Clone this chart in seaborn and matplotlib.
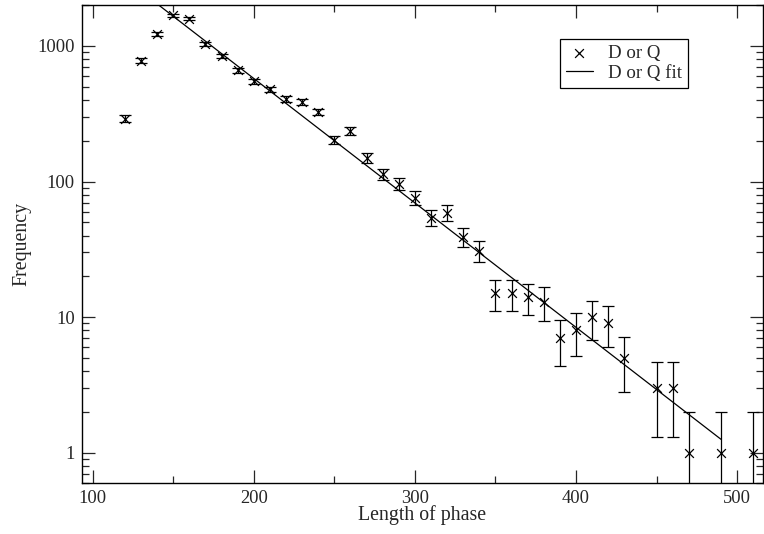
import numpy as np
import pandas as pd
import seaborn as sns
import matplotlib.pyplot as plt
from matplotlib.ticker import MultipleLocator, LogLocator, FixedLocator, NullFormatter

# phase lengths and counts
length = [120, 130, 140, 150, 160, 170, 180, 190, 200, 210, 220, 230, 240, 250,
          260, 270, 280, 290, 300, 310, 320, 330, 340, 350, 360, 370, 380, 390,
          400, 410, 420, 430, 450, 460, 470, 490, 510]
freq = [290, 780, 1220, 1680, 1580, 1030, 840, 660, 550, 478, 405, 385, 325, 202,
        235, 150, 113, 96, 76, 54, 59, 39, 31, 15, 15, 14, 13, 7,
        8, 10, 9, 5, 3, 3, 1, 1, 1]
err = [17, 28, 35, 41, 40, 32, 29, 26, 23.5, 22, 20, 19.6, 18, 14.2,
       15.3, 12.2, 10.6, 9.8, 8.7, 7.3, 7.7, 6.2, 5.6, 3.9, 3.9, 3.7, 3.6, 2.6,
       2.8, 3.2, 3.0, 2.2, 1.7, 1.7, 1, 1, 1]

# fitted exponential, end points
fit_x = [140, 490]
fit_y = [2040, 1.26]

df = pd.DataFrame({"length": length, "freq": freq, "err": err})
fit = pd.DataFrame({"length": fit_x, "freq": fit_y})

sns.set_style("ticks")
plt.rcParams["font.family"] = ["Liberation Serif", "DejaVu Serif"]
plt.rcParams["font.size"] = 13.5

fig = plt.figure(figsize=(7.64, 5.34), dpi=100)
ax = fig.add_axes([0.107, 0.0955, 0.8915, 0.8951])

ax.errorbar(df["length"], df["freq"], yerr=df["err"], fmt="none",
            ecolor="black", elinewidth=0.9, capsize=4.3, capthick=0.9, zorder=2)
sns.scatterplot(data=df, x="length", y="freq", marker="x", s=40, color="black",
                linewidth=0.9, ax=ax, label="D or Q", zorder=3)
sns.lineplot(data=fit, x="length", y="freq", color="black", linewidth=0.9,
             ax=ax, label="D or Q fit", zorder=2)

ax.set_yscale("log")
ax.set_xlim(93.2, 516)
ax.set_ylim(0.6, 2000)

ax.xaxis.set_major_locator(MultipleLocator(100))
ax.xaxis.set_minor_locator(MultipleLocator(50))
ax.yaxis.set_major_locator(FixedLocator([1, 10, 100, 1000]))
ax.yaxis.set_minor_locator(LogLocator(base=10, subs=np.arange(2, 10)))
ax.yaxis.set_minor_formatter(NullFormatter())
ax.set_yticklabels(["1", "10", "100", "1000"])

ax.tick_params(which="both", direction="in", top=True, right=True,
               width=0.9, labelsize=13.3, pad=5)
ax.tick_params(which="major", length=9.5)
ax.tick_params(which="minor", length=5)
for sp in ax.spines.values():
    sp.set_linewidth(1.0)
    sp.set_color("black")

ax.set_xlabel("Length of phase", fontsize=14.3, labelpad=-1)
ax.set_ylabel("Frequency", fontsize=14.3, labelpad=4)

leg = ax.legend(loc="upper right", bbox_to_anchor=(0.890, 0.929), borderaxespad=0,
                fancybox=False, framealpha=1, edgecolor="black", fontsize=13.6,
                handlelength=1.45, handletextpad=0.8, borderpad=0.3, labelspacing=0.15)
leg.get_frame().set_linewidth(0.9)

fig.savefig("out.png", dpi=100)
